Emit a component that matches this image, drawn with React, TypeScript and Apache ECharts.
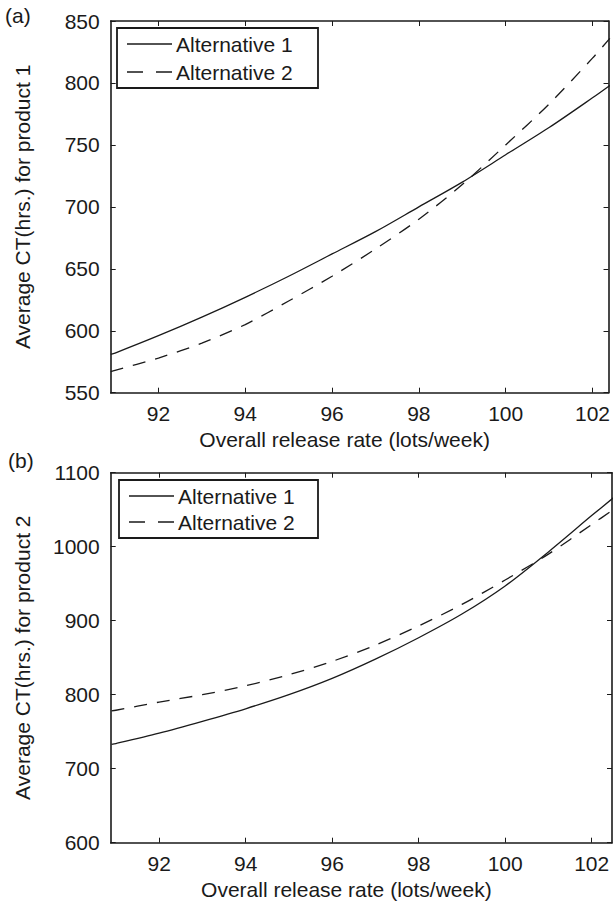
import React, { useEffect, useRef } from "react";
import * as echarts from "echarts";

// Panel (a): product 1
const rateA = [90.9, 91, 92, 93, 94, 95, 96, 97, 98, 99, 100, 101, 102, 102.4];
const ctA_alt1 = [581, 582, 596, 611, 627, 644, 662, 680, 700, 720, 742, 764, 788, 798];
const ctA_alt2 = [567, 568, 578, 590, 605, 624, 644, 666, 690, 718, 750, 783, 820, 836];

// Panel (b): product 2
const rateB = [90.9, 91, 92, 93, 94, 95, 96, 97, 98, 99, 100, 101, 102, 102.5];
const ctB_alt1 = [733, 734, 748, 764, 781, 800, 822, 848, 877, 909, 947, 993, 1042, 1066];
const ctB_alt2 = [778, 779, 790, 800, 812, 827, 845, 867, 893, 922, 955, 990, 1030, 1050];

const xTicks = [92, 94, 96, 98, 100, 102];
const seriesNames = ["Alternative 1", "Alternative 2"];
const panelLabels = ["(a)", "(b)"];
const yNames = ["Average CT(hrs.) for product 1", "Average CT(hrs.) for product 2"];
const xName = "Overall release rate (lots/week)";

const FONT = "Liberation Sans, Arial, Helvetica, sans-serif";
const INK = "#1a1a1a";
const FS = 21;

const zip = (xs: number[], ys: number[]) => xs.map((x, i) => [x, ys[i]]);

function legendGraphic(x: number, y: number, w: number, h: number, row1: number, row2: number) {
  return {
    type: "group",
    children: [
      { type: "rect", shape: { x, y, width: w, height: h }, style: { fill: "#fff", stroke: INK, lineWidth: 1.8 } },
      { type: "line", shape: { x1: x + 10, y1: row1, x2: x + 55, y2: row1 }, style: { stroke: INK, lineWidth: 1.3 } },
      {
        type: "line",
        shape: { x1: x + 10, y1: row2, x2: x + 55, y2: row2 },
        style: { stroke: INK, lineWidth: 1.3, lineDash: [16, 13] },
      },
      {
        type: "text",
        x: x + 59,
        y: row1,
        style: { text: seriesNames[0], fontFamily: FONT, fontSize: FS, fill: INK, verticalAlign: "middle", align: "left" },
      },
      {
        type: "text",
        x: x + 59,
        y: row2,
        style: { text: seriesNames[1], fontFamily: FONT, fontSize: FS, fill: INK, verticalAlign: "middle", align: "left" },
      },
    ],
  };
}

export default function App() {
  const ref = useRef<HTMLDivElement>(null);
  useEffect(() => {
    if (!ref.current) return;
    const chart = echarts.init(ref.current, null, { renderer: "svg" });

    const grids = [
      { left: 110.7, top: 21, width: 501.3, height: 371.7 },
      { left: 110.7, top: 472.7, width: 501.3, height: 370 },
    ];
    const xRanges = [
      [90.9, 102.37],
      [90.88, 102.47],
    ];
    const yRanges = [
      [550, 850, 50],
      [600, 1100, 100],
    ];

    const axisLine = { show: true, lineStyle: { color: INK, width: 1.6 } };
    const axisTick = { show: true, inside: true, length: 5, lineStyle: { color: INK, width: 1 } };

    const xAxis: any[] = [];
    const yAxis: any[] = [];
    [0, 1].forEach((g) => {
      xAxis.push({
        type: "value",
        gridIndex: g,
        min: xRanges[g][0],
        max: xRanges[g][1],
        position: "bottom",
        name: xName,
        nameLocation: "middle",
        nameGap: 36,
        nameTextStyle: { fontFamily: FONT, fontSize: FS, color: INK, padding: [0, 30, 0, 0] },
        axisLine,
        axisTick: { ...axisTick, customValues: xTicks },
        axisLabel: {
          customValues: xTicks,
          fontFamily: FONT,
          fontSize: FS,
          color: INK,
          margin: 10,
        },
        splitLine: { show: false },
      });
      xAxis.push({
        type: "value",
        gridIndex: g,
        min: xRanges[g][0],
        max: xRanges[g][1],
        position: "top",
        axisLine,
        axisTick: { ...axisTick, customValues: xTicks },
        axisLabel: { show: false, customValues: xTicks },
        splitLine: { show: false },
      });
      yAxis.push({
        type: "value",
        gridIndex: g,
        min: yRanges[g][0],
        max: yRanges[g][1],
        interval: yRanges[g][2],
        position: "left",
        name: yNames[g],
        nameLocation: "middle",
        nameGap: 78,
        nameTextStyle: { fontFamily: FONT, fontSize: FS, color: INK },
        axisLine,
        axisTick,
        axisLabel: {
          fontFamily: FONT,
          fontSize: FS,
          color: INK,
          margin: 11,
          formatter: (v: number) => String(v),
        },
        splitLine: { show: false },
      });
      yAxis.push({
        type: "value",
        gridIndex: g,
        min: yRanges[g][0],
        max: yRanges[g][1],
        interval: yRanges[g][2],
        position: "right",
        axisLine,
        axisTick,
        axisLabel: { show: false },
        splitLine: { show: false },
      });
    });

    const mk = (name: string, data: number[][], g: number, dashed: boolean) => ({
      type: "line",
      name,
      xAxisIndex: g * 2,
      yAxisIndex: g * 2,
      data,
      smooth: 0.3,
      symbol: "none",
      showSymbol: false,
      lineStyle: { color: INK, width: 1.3, type: dashed ? [13, 10] : "solid" },
      itemStyle: { color: INK },
      z: 2,
    });

    chart.setOption({
      animation: false,
      grid: grids,
      xAxis,
      yAxis,
      graphic: [
        { type: "text", left: 5, top: 5, style: { text: panelLabels[0], fontFamily: FONT, fontSize: FS, fill: INK } },
        { type: "text", left: 8, top: 450, style: { text: panelLabels[1], fontFamily: FONT, fontSize: FS, fill: INK } },
        legendGraphic(117, 28, 201, 60, 44, 72),
        legendGraphic(119, 480, 199, 58, 496, 522),
      ],
      series: [
        mk(seriesNames[0], zip(rateA, ctA_alt1), 0, false),
        mk(seriesNames[1], zip(rateA, ctA_alt2), 0, true),
        mk(seriesNames[0], zip(rateB, ctB_alt1), 1, false),
        mk(seriesNames[1], zip(rateB, ctB_alt2), 1, true),
      ],
    });
    return () => chart.dispose();
  }, []);
  return (
    <div
      ref={ref}
      style={{ position: "absolute", left: 0, top: 0, width: 613, height: 902, background: "#fff" }}
    />
  );
}
